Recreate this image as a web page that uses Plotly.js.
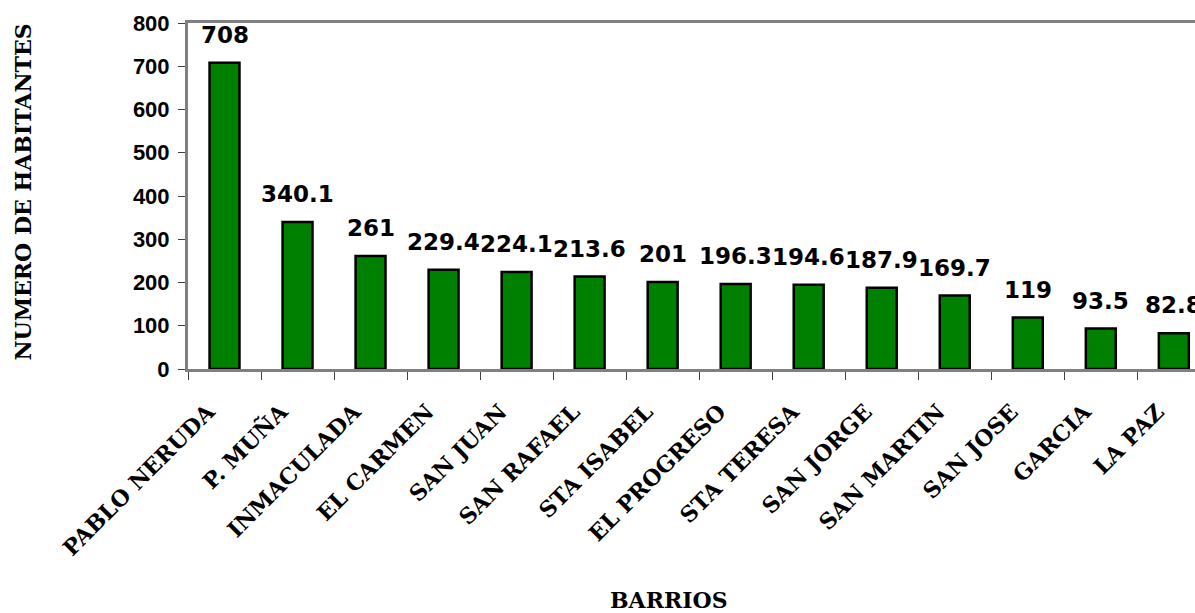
<!DOCTYPE html>
<html>
<head>
<meta charset="utf-8">
<script src="https://cdn.plot.ly/plotly-3.0.1.min.js"></script>
<style>html,body{margin:0;padding:0;background:#fff;}#chart{width:1195px;height:613px;}</style>
</head>
<body>
<div id="chart"></div>
<script>
const barrios = ["PABLO NERUDA","P. MUÑA","INMACULADA","EL CARMEN","SAN JUAN","SAN RAFAEL","STA ISABEL","EL PROGRESO","STA TERESA","SAN JORGE","SAN MARTIN","SAN JOSE","GARCIA","LA PAZ"];
const habitantes = [708, 340.1, 261, 229.4, 224.1, 213.6, 201, 196.3, 194.6, 187.9, 169.7, 119, 93.5, 82.8];
const yTicks = [0,100,200,300,400,500,600,700,800];

const trace = {
  type: 'bar',
  x: barrios,
  y: habitantes,
  width: 0.41,
  marker: {color: '#008000', line: {color: '#000000', width: 2.5}},
  hoverinfo: 'none'
};

const labelAnn = barrios.map((b, i) => ({
  x: b, y: habitantes[i], xref: 'x', yref: 'y',
  text: String(habitantes[i]), showarrow: false,
  yanchor: 'middle', yshift: 28,
  font: {family: 'DejaVu Sans', size: 23, color: '#000', weight: 'bold'}
}));

const layout = {
  width: 1195, height: 613,
  margin: {l: 188, r: 0, t: 23, b: 243.5},
  paper_bgcolor: '#fff', plot_bgcolor: '#fff',
  showlegend: false,
  xaxis: {
    type: 'category',
    range: [-0.5, 13.29],
    showline: true, linecolor: '#808080', linewidth: 3, mirror: true,
    ticks: 'outside', tickson: 'boundaries', ticklen: 8, tickcolor: '#404040', tickwidth: 1,
    tickangle: -45,
    ticksuffix: '\u00a0\u00a0\u00a0',
    ticklabelstandoff: 2,
    tickfont: {family: 'DejaVu Serif', size: 22, color: '#000', weight: 'bold'},
    showgrid: false, zeroline: false, fixedrange: true
  },
  yaxis: {
    range: [0, 800],
    tickvals: yTicks,
    showline: true, linecolor: '#808080', linewidth: 3,
    ticks: 'outside', ticklen: 7, tickcolor: '#404040', tickwidth: 1,
    tickfont: {family: 'Liberation Sans', size: 22, color: '#000', weight: 'bold'},
    ticklabelstandoff: 4,
    showgrid: false, zeroline: false, fixedrange: true
  },
  annotations: labelAnn.concat([{
    xref: 'paper', yref: 'paper', x: 0.478, y: -0.669,
    xanchor: 'center', yanchor: 'middle', showarrow: false,
    text: 'BARRIOS',
    font: {family: 'DejaVu Serif', size: 22, color: '#000', weight: 'bold'}
  }, {
    xref: 'paper', yref: 'paper', x: -0.1648, y: 0.51,
    xanchor: 'center', yanchor: 'middle', showarrow: false, textangle: -90,
    text: 'NUMERO DE HABITANTES',
    font: {family: 'DejaVu Serif', size: 22, color: '#000', weight: 'bold'}
  }])
};

Plotly.newPlot('chart', [trace], layout, {staticPlot: true, displayModeBar: false});
</script>
</body>
</html>
